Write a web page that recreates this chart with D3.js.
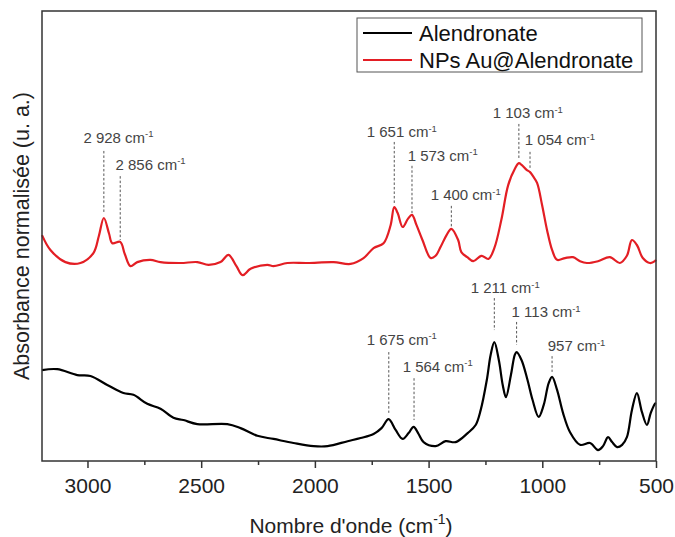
<!DOCTYPE html>
<html><head><meta charset="utf-8">
<script src="https://cdn.jsdelivr.net/npm/d3@7"></script>
<style>body{margin:0;background:#fff}svg{display:block}</style>
</head><body>
<script>
// ---- data ----
const redWn = [3200,3163,3097,3031,2974,2950,2928,2905,2891,2856,2836,2811,2781,2723,2679,2591,2517,2468,2415,2380,2345,2318,2283,2209,2182,2121,2033,1918,1843,1786,1742,1698,1667,1651,1636,1614,1591,1573,1553,1527,1491,1469,1447,1421,1400,1370,1356,1330,1303,1268,1237,1211,1180,1150,1120,1103,1091,1069,1054,1041,1023,1001,979,957,935,900,865,834,804,755,703,659,628,606,584,558,527,505,500];
const redVal = [50.2,46.9,44.2,44.0,46.2,50.0,54.0,50.5,48.4,48.7,46.0,43.3,44.2,44.7,44.2,44.0,44.2,43.6,44.2,45.8,43.3,41.3,42.7,43.6,43.3,44.0,44.0,44.2,43.8,45.1,47.3,48.4,52.4,56.4,55.1,52.0,53.8,54.7,52.4,49.1,45.1,45.6,47.6,50.2,51.6,49.1,46.4,45.3,44.4,45.6,44.9,47.3,53.6,61.3,65.0,66.2,65.8,64.7,64.2,63.3,61.8,56.9,51.3,46.9,44.7,45.1,45.3,44.4,44.0,44.4,45.3,44.0,45.6,49.1,48.0,45.1,44.0,44.4,44.7];
const blackWn = [3200,3133,3045,2987,2913,2842,2798,2737,2679,2622,2578,2517,2385,2327,2253,2182,2094,2006,1944,1856,1799,1742,1707,1676,1645,1614,1588,1566,1544,1522,1469,1425,1381,1328,1293,1271,1244,1227,1211,1191,1174,1160,1138,1121,1113,1091,1065,1043,1016,994,972,957,935,909,878,834,790,755,733,711,693,671,649,628,606,584,562,540,523,505,500];
const blackVal = [20.2,20.4,19.1,18.9,16.9,15.1,14.7,12.7,11.6,9.6,9.1,8.2,8.2,7.3,5.6,4.9,4.0,3.3,3.3,4.4,5.1,6.0,7.3,9.3,6.9,4.9,6.2,7.6,6.0,4.2,3.3,4.4,4.2,6.2,8.0,11.3,18.0,23.6,26.4,22.4,16.9,14.2,19.1,23.6,24.2,22.4,18.0,13.6,9.8,12.4,17.3,18.7,15.8,10.7,6.4,3.6,4.0,2.4,3.3,5.3,4.2,3.1,3.6,5.3,11.3,15.1,10.9,8.0,10.7,12.7,12.9];

const seriesNames = ["Alendronate", "NPs Au@Alendronate"];
const xTicks = [3000, 2500, 2000, 1500, 1000, 500];
const xMinorTicks = [2750, 2250, 1750, 1250, 750];

// peak annotations: peak wavenumber, label number, dashed line extent and label anchor (data units)
const annWn     = [2928, 2856, 1651, 1573, 1400, 1103, 1054, 1211, 1113, 957, 1675, 1564];
const annText   = ["2 928", "2 856", "1 651", "1 573", "1 400", "1 103", "1 054", "1 211", "1 113", "957", "1 675", "1 564"];
const annTop    = [68.9, 63.3, 70.9, 65.6, 56.7, 74.9, 68.7, 36.2, 30.9, 23.3, 24.2, 18.4];
const annBottom = [55.1, 49.1, 56.9, 55.1, 51.8, 66.9, 65.1, 29.1, 25.8, 19.8, 10.7, 9.1];
const annLabelWn= [3018, 2877, 1772, 1592, 1491, 1218, 1077, 1315, 1135, 976, 1772, 1614];
const annLabelY = [70.7, 64.7, 72.0, 66.7, 58.0, 76.2, 70.2, 37.3, 32.0, 24.4, 25.8, 19.8];

// ---- layout ----
const W = 675, H = 537;
const m = {left: 42, top: 11, right: 19, bottom: 76};
const iw = W - m.left - m.right, ih = H - m.top - m.bottom;
const FONT = "Liberation Sans, Arial, sans-serif";

const svg = d3.select("body").append("svg").attr("width", W).attr("height", H);
const g = svg.append("g").attr("transform", `translate(${m.left},${m.top})`);

const x = d3.scaleLinear().domain([3200, 500]).range([0, iw]);
const y = d3.scaleLinear().domain([0, 100]).range([ih, 0]);

const line = d3.line().x(d => x(d[0])).y(d => y(d[1])).curve(d3.curveCatmullRom.alpha(0.5));

const redData = redWn.map((w, i) => [w, redVal[i]]);
const blackData = blackWn.map((w, i) => [w, blackVal[i]]);

g.append("path").datum(blackData).attr("d", line)
  .attr("fill", "none").attr("stroke", "#000").attr("stroke-width", 2.2).attr("stroke-linejoin", "round");
g.append("path").datum(redData).attr("d", line)
  .attr("fill", "none").attr("stroke", "#e31e24").attr("stroke-width", 2.2).attr("stroke-linejoin", "round");

// annotations
const ann = g.append("g");
annWn.forEach((w, i) => {
  ann.append("line")
    .attr("x1", x(w)).attr("x2", x(w))
    .attr("y1", y(annTop[i])).attr("y2", y(annBottom[i]))
    .attr("stroke", "#555").attr("stroke-width", 1).attr("stroke-dasharray", "2.5,2");
  const t = ann.append("text")
    .attr("x", x(annLabelWn[i])).attr("y", y(annLabelY[i]))
    .attr("font-family", FONT)
    .attr("font-size", 15).attr("fill", "#444");
  t.append("tspan").text(annText[i] + " cm");
  t.append("tspan").attr("font-size", 9.5).attr("dy", -5.5).text("-1");
});

// axes
const xAxis = d3.axisBottom(x).tickValues(xTicks).tickSize(7).tickPadding(10).tickFormat(d3.format("d"));
const ax = g.append("g").attr("transform", `translate(0,${ih})`).call(xAxis);
ax.select(".domain").remove();
ax.selectAll(".tick line").attr("stroke", "#333").attr("stroke-width", 1.5);
ax.selectAll(".tick text").attr("font-family", FONT).attr("font-size", 21).attr("fill", "#222");

const xMinor = d3.axisBottom(x).tickValues(xMinorTicks).tickSize(4).tickFormat("");
const axm = g.append("g").attr("transform", `translate(0,${ih})`).call(xMinor);
axm.select(".domain").remove();
axm.selectAll(".tick line").attr("stroke", "#333").attr("stroke-width", 1.5);

// frame
g.append("rect").attr("x", 0).attr("y", 0).attr("width", iw).attr("height", ih)
  .attr("fill", "none").attr("stroke", "#333").attr("stroke-width", 1.5);

// axis titles
const xt = svg.append("text").attr("x", m.left + iw / 2 + 2).attr("y", 533)
  .attr("text-anchor", "middle").attr("font-family", FONT)
  .attr("font-size", 21).attr("fill", "#222");
xt.append("tspan").text("Nombre d'onde (cm");
xt.append("tspan").attr("font-size", 14).attr("dy", -9).text("-1");
xt.append("tspan").attr("dy", 9).text(")");

svg.append("text").attr("transform", `translate(29,${236}) rotate(-90)`)
  .attr("text-anchor", "middle").attr("font-family", FONT)
  .attr("font-size", 21.5).attr("fill", "#222").text("Absorbance normalisée (u. a.)");

// legend
const lg = svg.append("g").attr("transform", "translate(357,18)");
lg.append("rect").attr("width", 285).attr("height", 54).attr("fill", "#fff").attr("stroke", "#555").attr("stroke-width", 1);
const legColors = ["#000", "#e31e24"];
seriesNames.forEach((s, i) => {
  const yy = 15 + i * 27;
  lg.append("line").attr("x1", 6).attr("x2", 55).attr("y1", yy).attr("y2", yy)
    .attr("stroke", legColors[i]).attr("stroke-width", 2);
  lg.append("text").attr("x", 62).attr("y", yy + 8)
    .attr("font-family", FONT).attr("font-size", 22).attr("fill", "#111").text(s);
});
</script>
</body></html>
